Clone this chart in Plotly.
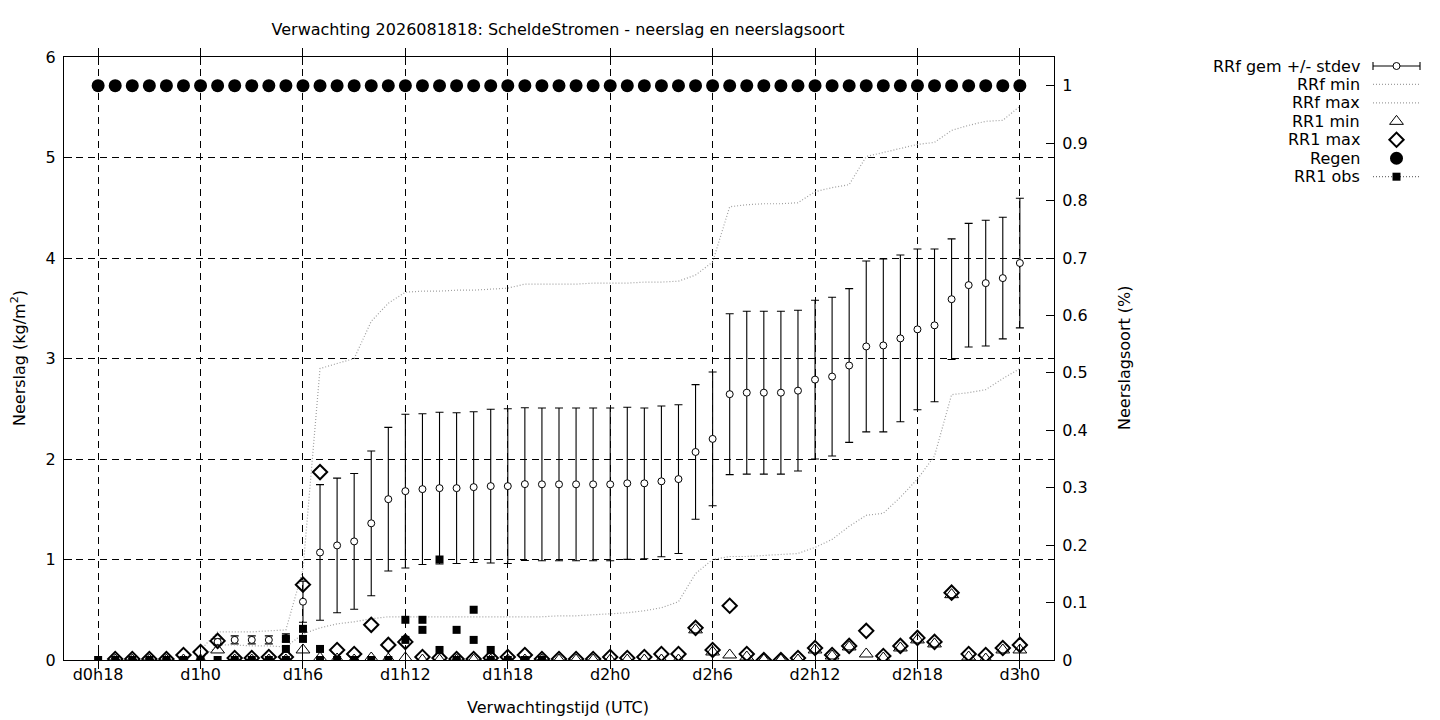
import plotly.graph_objects as go

W, H = 1440, 720
FONT = "DejaVu Sans"
FS = 16

# ---------------- data ----------------
title_text = "Verwachting 2026081818: ScheldeStromen - neerslag en neerslagsoort"
tick_hours = [18, 24, 30, 36, 42, 48, 54, 60, 66, 72]
tick_labels = ["d0h18", "d1h0", "d1h6", "d1h12", "d1h18", "d2h0", "d2h6", "d2h12", "d2h18", "d3h0"]

# RRf gem +/- stdev
mean_hours = [25, 26, 27, 28, 29, 30, 31, 32, 33, 34, 35, 36, 37, 38, 39, 40, 41, 42, 43, 44,
              45, 46, 47, 48, 49, 50, 51, 52, 53, 54, 55, 56, 57, 58, 59, 60, 61, 62, 63, 64,
              65, 66, 67, 68, 69, 70, 71, 72]
rrf_mean = [0.18, 0.20, 0.20, 0.20, 0.22, 0.58, 1.07, 1.14, 1.18, 1.36, 1.60, 1.68, 1.70, 1.71, 1.71, 1.72,
            1.73, 1.73, 1.75, 1.748, 1.748, 1.748, 1.748, 1.748, 1.758, 1.758, 1.778, 1.80, 2.07, 2.20,
            2.645, 2.66, 2.66, 2.66, 2.68, 2.79, 2.82, 2.93, 3.12, 3.13, 3.20, 3.29, 3.33, 3.59, 3.73,
            3.75, 3.80, 3.95]
rrf_sd = [0.03, 0.04, 0.04, 0.04, 0.04, 0.205, 0.675, 0.67, 0.675, 0.72, 0.715, 0.765, 0.75, 0.755, 0.75, 0.75,
          0.765, 0.77, 0.76, 0.76, 0.76, 0.76, 0.76, 0.76, 0.757, 0.75, 0.75, 0.74, 0.67, 0.665,
          0.80, 0.81, 0.81, 0.81, 0.80, 0.79, 0.79, 0.765, 0.85, 0.86, 0.83, 0.80, 0.76, 0.60, 0.615,
          0.625, 0.605, 0.645]

# RRf min / max
minmax_hours = [24, 25, 26, 27, 28, 29, 30, 31, 32, 33, 34, 35, 36, 37, 38, 39, 40, 41, 42, 43,
                44, 45, 46, 47, 48, 49, 50, 51, 52, 53, 54, 55, 56, 57, 58, 59, 60, 61, 62, 63,
                64, 65, 66, 67, 68, 69, 70, 71, 72]
rrf_min = [0.0, 0.15, 0.15, 0.14, 0.14, 0.13, 0.26, 0.32, 0.36, 0.38, 0.41, 0.43, 0.43, 0.43, 0.43, 0.43,
           0.43, 0.43, 0.43, 0.43, 0.43, 0.44, 0.44, 0.45, 0.46, 0.47, 0.49, 0.52, 0.58, 0.86, 1.00,
           1.03, 1.03, 1.04, 1.05, 1.06, 1.12, 1.20, 1.33, 1.44, 1.46, 1.62, 1.80, 2.03, 2.64, 2.66,
           2.69, 2.80, 2.90]
rrf_max = [0.10, 0.28, 0.28, 0.28, 0.29, 0.30, 0.90, 2.90, 2.95, 3.00, 3.37, 3.55, 3.66, 3.67, 3.67, 3.68,
           3.68, 3.69, 3.70, 3.74, 3.74, 3.74, 3.74, 3.75, 3.75, 3.75, 3.76, 3.76, 3.77, 3.83, 3.96,
           4.51, 4.53, 4.54, 4.54, 4.55, 4.66, 4.70, 4.73, 5.01, 5.05, 5.09, 5.13, 5.15, 5.27, 5.32,
           5.36, 5.37, 5.51]

# RR1 min / max
rr1_hours = [19, 20, 21, 22, 23, 24, 25, 26, 27, 28, 29, 30, 31, 32, 33, 34, 35, 36, 37, 38,
             39, 40, 41, 42, 43, 44, 45, 46, 47, 48, 49, 50, 51, 52, 53, 54, 55, 56, 57, 58,
             59, 60, 61, 62, 63, 64, 65, 66, 67, 68, 69, 70, 71, 72]
rr1_min = [0.0, 0.0, 0.0, 0.0, 0.0, 0.0, 0.10, 0.0, 0.0, 0.0, 0.0, 0.10, 0.02, 0.01, 0.0, 0.02, 0.01, 0.02,
           0.0, 0.0, 0.0, 0.0, 0.0, 0.0, 0.0, 0.0, 0.0, 0.0, 0.0, 0.0, 0.0, 0.0, 0.0, 0.0, 0.30, 0.08,
           0.05, 0.03, 0.0, 0.0, 0.0, 0.10, 0.04, 0.13, 0.06, 0.02, 0.12, 0.20, 0.16, 0.65, 0.03, 0.01,
           0.10, 0.10]
rr1_max = [0.01, 0.01, 0.01, 0.01, 0.05, 0.08, 0.19, 0.02, 0.02, 0.03, 0.03, 0.75, 1.87, 0.10, 0.06, 0.35,
           0.15, 0.18, 0.03, 0.02, 0.01, 0.01, 0.02, 0.03, 0.05, 0.01, 0.01, 0.01, 0.01, 0.03, 0.02,
           0.03, 0.06, 0.06, 0.32, 0.10, 0.54, 0.06, 0.0, 0.0, 0.02, 0.12, 0.05, 0.14, 0.29, 0.04,
           0.14, 0.22, 0.18, 0.67, 0.06, 0.05, 0.12, 0.15]

# Regen (neerslagsoort, right axis)
regen_hours = [18, 19, 20, 21, 22, 23, 24, 25, 26, 27, 28, 29, 30, 31, 32, 33, 34, 35, 36, 37,
               38, 39, 40, 41, 42, 43, 44, 45, 46, 47, 48, 49, 50, 51, 52, 53, 54, 55, 56, 57,
               58, 59, 60, 61, 62, 63, 64, 65, 66, 67, 68, 69, 70, 71, 72]
regen = [1, 1, 1, 1, 1, 1, 1, 1, 1, 1, 1, 1, 1, 1, 1, 1, 1, 1, 1, 1,
         1, 1, 1, 1, 1, 1, 1, 1, 1, 1, 1, 1, 1, 1, 1, 1, 1, 1, 1, 1,
         1, 1, 1, 1, 1, 1, 1, 1, 1, 1, 1, 1, 1, 1, 1]

# RR1 obs
obs_hours = [18, 19, 20, 21, 22, 23, 24, 25, 26, 27, 28, 29, 29, 29, 30, 30, 31, 31, 32, 33,
             34, 35, 36, 36, 37, 37, 38, 38, 39, 39, 40, 40, 41, 41, 42, 43, 44]
obs_vals = [0.0, 0.0, 0.0, 0.0, 0.0, 0.0, 0.0, 0.0, 0.0, 0.0, 0.0, 0.21, 0.11, 0.0, 0.31, 0.21, 0.11, 0.0,
            0.0, 0.0, 0.0, 0.0, 0.40, 0.20, 0.40, 0.30, 1.00, 0.10, 0.30, 0.0, 0.50, 0.20, 0.10, 0.0,
            0.0, 0.0, 0.0]

legend_names = ["RRf gem +/- stdev", "RRf min", "RRf max", "RR1 min", "RR1 max", "Regen", "RR1 obs"]

# ---------------- styling ----------------
GRAY = "#a0a0a0"
GRID_DASH = "7px,5px"
DOT = "1px,2px"

# plot area in pixels
PL, PR, PT, PB = 64, 1054, 57, 660


def px_x(v):
    return v / W


def px_y(v):
    return 1 - v / H


fig = go.Figure()

circle_marker = dict(symbol="circle", size=7, color="white", line=dict(color="black", width=1))
tri_marker = dict(symbol="triangle-up-open", size=12, color="black", line=dict(color="black", width=1))
dia_marker = dict(symbol="diamond-open", size=11, color="black", line=dict(color="black", width=2))
regen_marker = dict(symbol="circle", size=13, color="black", line=dict(width=0))
obs_marker = dict(symbol="square", size=8, color="black", line=dict(width=0))

fig.add_trace(go.Scatter(
    x=mean_hours, y=rrf_mean, mode="markers", name=legend_names[0],
    marker=circle_marker,
    error_y=dict(type="data", array=rrf_sd, symmetric=True, color="black", thickness=1.1, width=4),
    xaxis="x", yaxis="y", showlegend=False))
fig.add_trace(go.Scatter(
    x=minmax_hours, y=rrf_min, mode="lines", name=legend_names[1],
    line=dict(color=GRAY, width=1.2, dash=DOT), xaxis="x", yaxis="y", showlegend=False))
fig.add_trace(go.Scatter(
    x=minmax_hours, y=rrf_max, mode="lines", name=legend_names[2],
    line=dict(color=GRAY, width=1.2, dash=DOT), xaxis="x", yaxis="y", showlegend=False))
fig.add_trace(go.Scatter(
    x=rr1_hours, y=rr1_min, mode="markers", name=legend_names[3],
    marker=tri_marker, xaxis="x", yaxis="y", showlegend=False))
fig.add_trace(go.Scatter(
    x=rr1_hours, y=rr1_max, mode="markers", name=legend_names[4],
    marker=dia_marker, xaxis="x", yaxis="y", showlegend=False))
fig.add_trace(go.Scatter(
    x=regen_hours, y=regen, mode="markers", name=legend_names[5],
    marker=regen_marker, xaxis="x", yaxis="y2", showlegend=False))
fig.add_trace(go.Scatter(
    x=obs_hours, y=obs_vals, mode="markers", name=legend_names[6],
    marker=obs_marker, xaxis="x", yaxis="y", showlegend=False))

# ---------------- gnuplot-style key (right-aligned text, sample on the right) ----------------
KEY_TEXT_X = 1362
KEY_S0, KEY_S1, KEY_MID = 1373, 1420, 1396.5
KEY_Y0, KEY_DY = 66, 18.45
key_rows = [KEY_Y0 + i * KEY_DY for i in range(len(legend_names))]

fig.add_trace(go.Scatter(
    x=[KEY_MID], y=[key_rows[0]], mode="markers", marker=circle_marker,
    error_x=dict(type="data", array=[KEY_S1 - KEY_MID], color="black", thickness=1.1, width=4),
    xaxis="x3", yaxis="y3", showlegend=False, hoverinfo="skip"))
for r in (1, 2):
    fig.add_trace(go.Scatter(
        x=[KEY_S0, KEY_S1], y=[key_rows[r], key_rows[r]], mode="lines",
        line=dict(color=GRAY, width=1.2, dash=DOT), xaxis="x3", yaxis="y3", showlegend=False, hoverinfo="skip"))
fig.add_trace(go.Scatter(x=[KEY_MID], y=[key_rows[3]], mode="markers", marker=tri_marker,
                         xaxis="x3", yaxis="y3", showlegend=False, hoverinfo="skip"))
fig.add_trace(go.Scatter(x=[KEY_MID], y=[key_rows[4]], mode="markers", marker=dia_marker,
                         xaxis="x3", yaxis="y3", showlegend=False, hoverinfo="skip"))
fig.add_trace(go.Scatter(x=[KEY_MID], y=[key_rows[5]], mode="markers", marker=regen_marker,
                         xaxis="x3", yaxis="y3", showlegend=False, hoverinfo="skip"))
fig.add_trace(go.Scatter(
    x=[KEY_S0, KEY_S1], y=[key_rows[6], key_rows[6]], mode="lines",
    line=dict(color="#707070", width=1.2, dash=DOT), xaxis="x3", yaxis="y3", showlegend=False, hoverinfo="skip"))
fig.add_trace(go.Scatter(x=[KEY_MID], y=[key_rows[6]], mode="markers", marker=obs_marker,
                         xaxis="x3", yaxis="y3", showlegend=False, hoverinfo="skip"))

annotations = []
for name, yr in zip(legend_names, key_rows):
    annotations.append(dict(text=name, x=px_x(KEY_TEXT_X), y=px_y(yr), xref="paper", yref="paper",
                            xanchor="right", yanchor="middle", showarrow=False,
                            font=dict(family=FONT, size=FS, color="black")))

annotations += [
    dict(text="Verwachtingstijd (UTC)", x=px_x(558), y=px_y(707), xref="paper", yref="paper",
         xanchor="center", yanchor="middle", showarrow=False, font=dict(family=FONT, size=FS, color="black")),
    dict(text="Neerslag (kg/m<sup>2</sup>)", x=px_x(18), y=px_y(358), xref="paper", yref="paper",
         xanchor="center", yanchor="middle", textangle=-90, showarrow=False,
         font=dict(family=FONT, size=FS, color="black")),
    dict(text="Neerslagsoort (%)", x=px_x(1124), y=px_y(358), xref="paper", yref="paper",
         xanchor="center", yanchor="middle", textangle=-90, showarrow=False,
         font=dict(family=FONT, size=FS, color="black")),
]

axis_font = dict(family=FONT, size=FS, color="black")
y2_ticks = [0, 0.1, 0.2, 0.3, 0.4, 0.5, 0.6, 0.7, 0.8, 0.9, 1.0]
y2_labels = ["0", "0.1", "0.2", "0.3", "0.4", "0.5", "0.6", "0.7", "0.8", "0.9", "1"]

fig.update_layout(
    width=W, height=H, autosize=False,
    margin=dict(l=0, r=0, t=0, b=0, pad=0, autoexpand=False),
    paper_bgcolor="white", plot_bgcolor="white",
    font=dict(family=FONT, size=FS, color="black"),
    title=dict(text=title_text, x=px_x(558), y=px_y(29), xref="paper", yref="container",
               xanchor="center", yanchor="middle", automargin=False,
               font=dict(family=FONT, size=FS, color="black")),
    showlegend=False,
    xaxis=dict(domain=[PL / W, PR / W], range=[16, 74], tickvals=tick_hours, ticktext=tick_labels,
               ticks="inside", ticklen=8, tickcolor="black", tickwidth=1,
               showline=True, linecolor="black", linewidth=1, mirror="allticks",
               showgrid=True, gridcolor="black", gridwidth=1, griddash=GRID_DASH,
               zeroline=False, tickfont=axis_font, anchor="y", automargin=False, fixedrange=True),
    yaxis=dict(domain=[1 - PB / H, 1 - PT / H], range=[0, 6], tickvals=[0, 1, 2, 3, 4, 5, 6],
               ticks="inside", ticklen=8, tickcolor="black", tickwidth=1,
               showline=True, linecolor="black", linewidth=1, mirror=False,
               showgrid=True, gridcolor="black", gridwidth=1, griddash=GRID_DASH,
               zeroline=False, tickfont=axis_font, anchor="x", ticklabelstandoff=4,
               automargin=False, fixedrange=True),
    yaxis2=dict(domain=[1 - PB / H, 1 - PT / H], range=[0, 1.05], overlaying="y", side="right",
                tickvals=y2_ticks, ticktext=y2_labels,
                ticks="inside", ticklen=8, tickcolor="black", tickwidth=1,
                showline=True, linecolor="black", linewidth=1,
                showgrid=False, zeroline=False, tickfont=axis_font, anchor="x", ticklabelstandoff=4,
                automargin=False, fixedrange=True),
    xaxis3=dict(domain=[1360 / W, 1430 / W], range=[1360, 1430], visible=False, anchor="y3",
                automargin=False, fixedrange=True),
    yaxis3=dict(domain=[0, 1], range=[H, 0], visible=False, anchor="x3", automargin=False, fixedrange=True),
    annotations=annotations,
)

fig.write_html("out.html", config={"displayModeBar": False},
               post_script="document.body.style.margin='0';")
